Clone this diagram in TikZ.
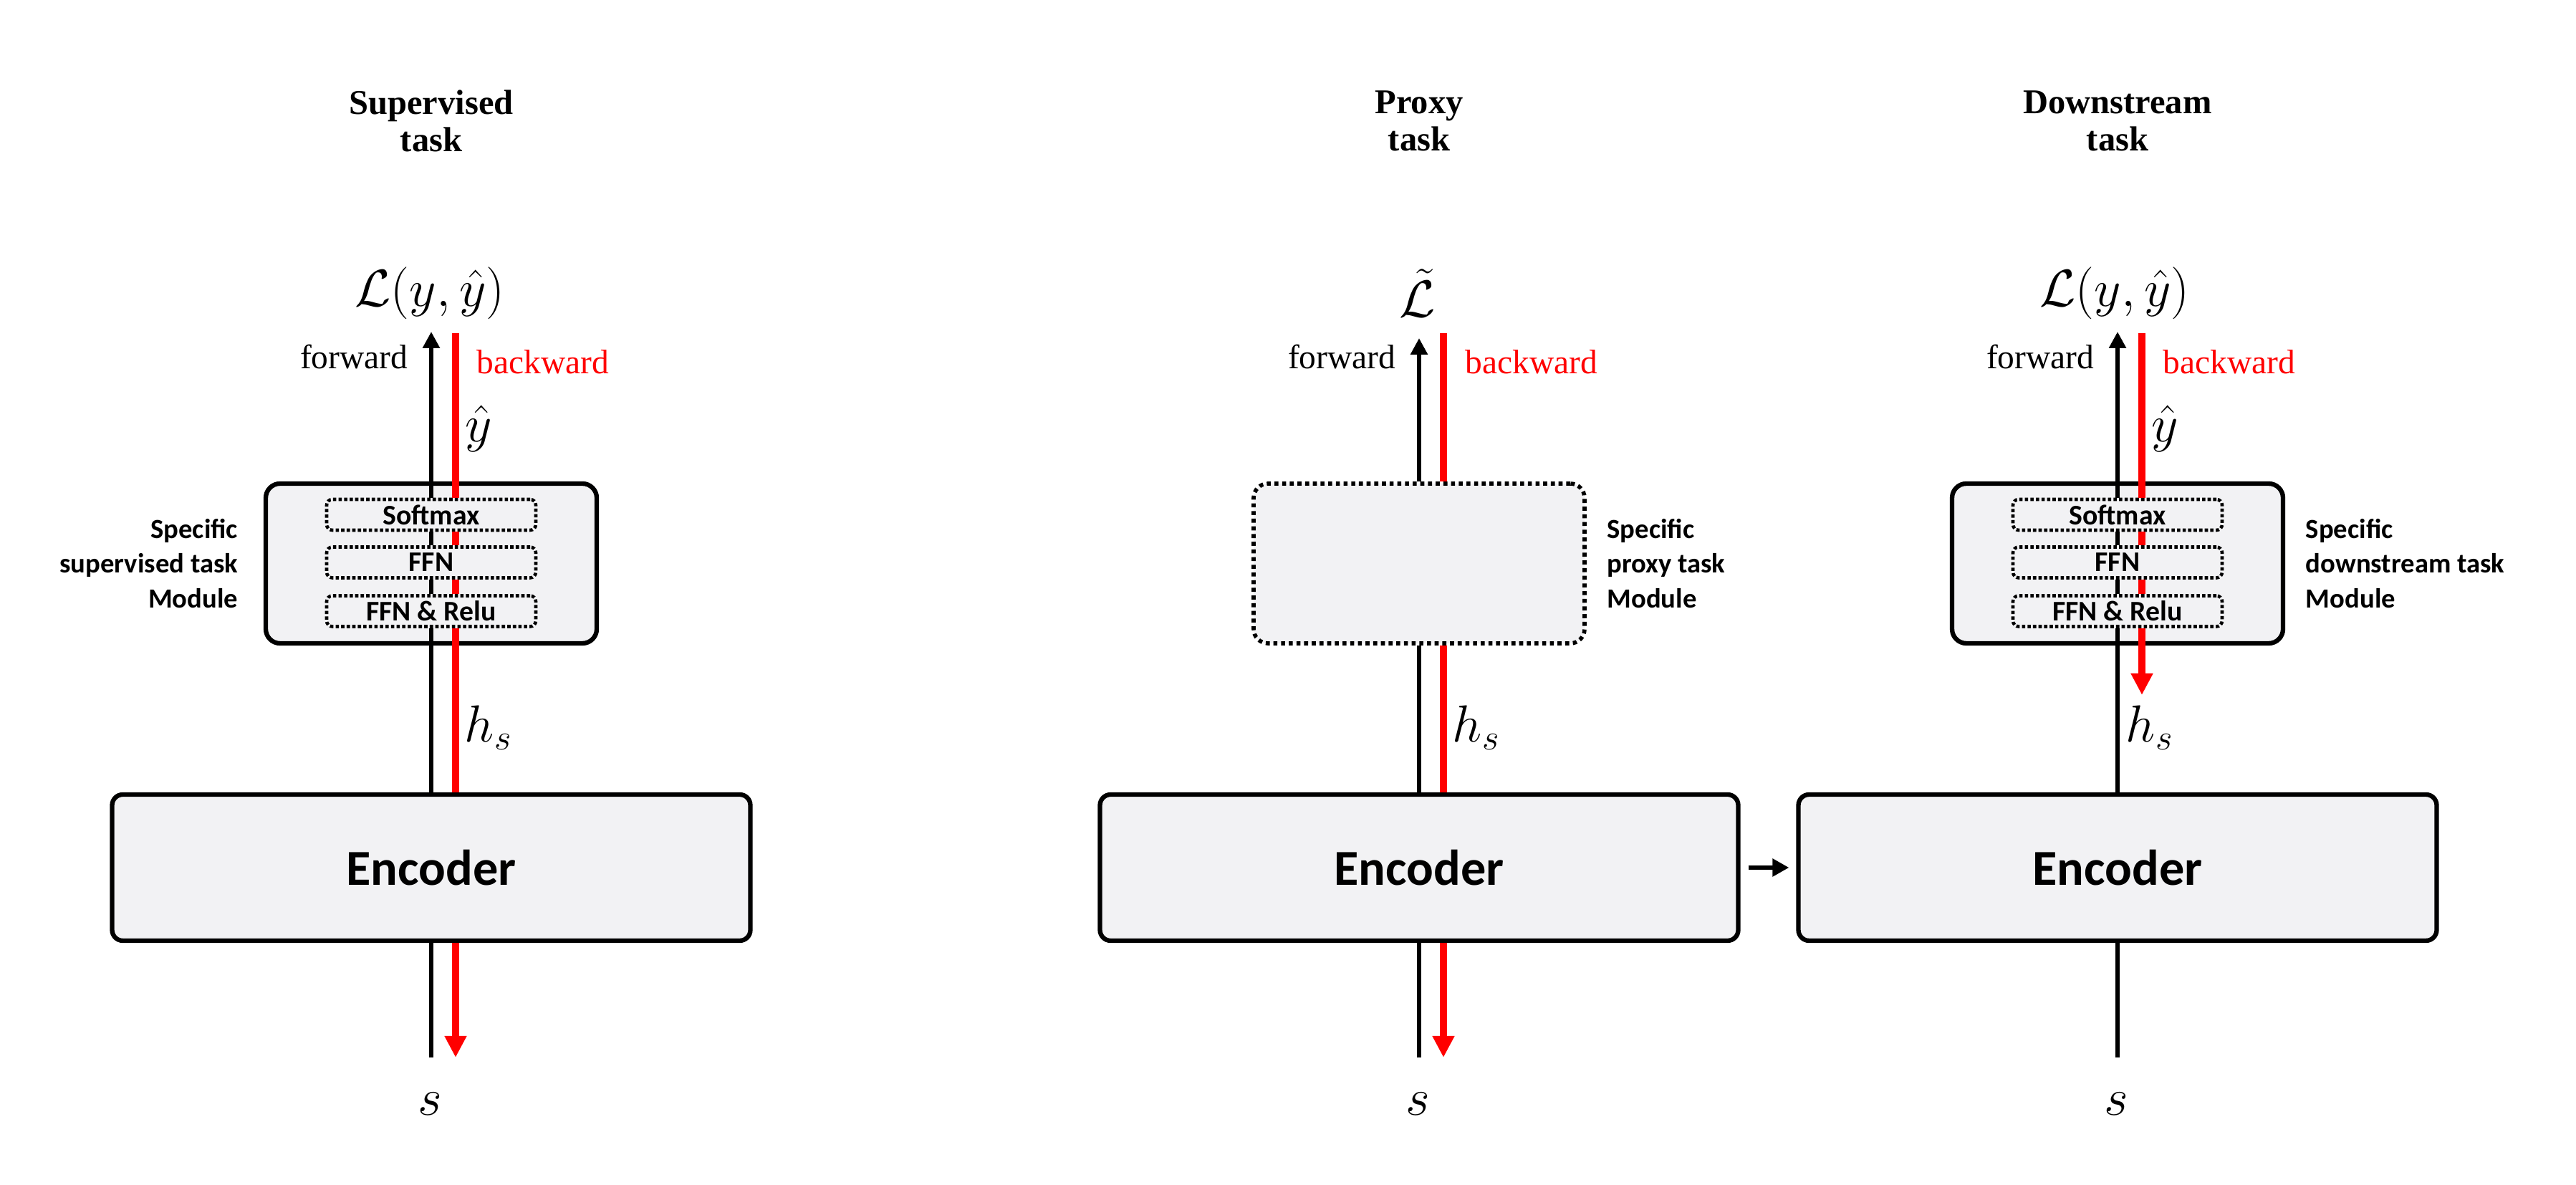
\documentclass[tikz,border=0pt]{standalone}
\usepackage{fontspec}
\setmainfont{Liberation Serif}
\newfontfamily\calibrifont{Carlito}
\usepackage{xcolor}
\usepackage{tikz}
\usetikzlibrary{arrows.meta}
\usetikzlibrary{positioning}

\definecolor{boxgray}{RGB}{242,242,244}
\definecolor{bwdred}{RGB}{255,0,0}

\begin{document}
\begin{tikzpicture}[
  tasktitle/.style={font=\bfseries\fontsize{13.8}{15}\selectfont, align=center, inner sep=0pt},
  dirlabel/.style={font=\fontsize{13.5}{16}\selectfont, inner sep=0pt},
  mathlbl/.style={font=\fontsize{20}{24}\selectfont, inner sep=0pt},
  modulebox/.style={draw, line width=1.8pt, rounded corners=0.2cm, fill=boxgray,
    minimum width=4.62cm, minimum height=2.23cm},
  proxybox/.style={modulebox, line width=1.6pt, dash pattern=on 1.6pt off 1.45pt},
  layerbox/.style={draw, line width=1.3pt, dash pattern=on 1.3pt off 0.9pt,
    rounded corners=0.08cm, fill=boxgray, minimum width=2.92cm, minimum height=0.43cm,
    inner sep=0pt, font=\calibrifont\bfseries\fontsize{11.3}{13}\selectfont},
  modlabel/.style={font=\calibrifont\bfseries\fontsize{11}{13.7}\selectfont, inner sep=0pt},
  encbox/.style={draw, line width=1.8pt, rounded corners=0.15cm, fill=boxgray,
    minimum width=8.91cm, minimum height=2.04cm,
    font=\calibrifont\bfseries\fontsize{20}{24}\selectfont},
  fwdline/.style={line width=1.7pt},
  fwdarrow/.style={fwdline, -{Triangle[length=0.23cm, width=0.23cm]}},
  bwdline/.style={draw=bwdred, line width=2.8pt},
  bwdarrow/.style={bwdline, -{Triangle[length=0.30cm, width=0.29cm]}},
  linkarrow/.style={line width=1.6pt, -{Triangle[length=0.23cm, width=0.24cm]},
    shorten <=0.11cm, shorten >=0.10cm},
]
\useasboundingbox (0,0) rectangle (35.96,16.54);

  % Titles
  \node[tasktitle] (t1) at (6.02, 14.85)  {Supervised\\task};
  \node[tasktitle] (t2) at (19.81, 14.85) {Proxy\\task};
  \node[tasktitle] (t3) at (29.56, 14.85) {Downstream\\task};

  % Losses
  \node[mathlbl] (loss1) at (6.00, 12.45)  {$\mathcal{L}(y,\hat{y})$};
  \node[mathlbl] (loss2) at (19.79, 12.45) {$\tilde{\mathcal{L}}$};
  \node[mathlbl] (loss3) at (29.52, 12.45) {$\mathcal{L}(y,\hat{y})$};

  % Task modules
  \node[modulebox] (mod1) at (6.02, 8.675)  {};
  \node[proxybox]  (mod2) at (19.81, 8.675) {};
  \node[modulebox] (mod3) at (29.56, 8.675) {};

  % Layers
  \node[layerbox] (soft1) at (6.02, 9.355) {Softmax};
  \node[layerbox] (ffn1)  at (6.02, 8.69)  {FFN};
  \node[layerbox] (relu1) at (6.02, 8.01)  {FFN \& Relu};
  \node[layerbox] (soft3) at (29.56, 9.355) {Softmax};
  \node[layerbox] (ffn3)  at (29.56, 8.69)  {FFN};
  \node[layerbox] (relu3) at (29.56, 8.01)  {FFN \& Relu};

  % Module labels
  \node[modlabel, align=right, left=0.35cm of mod1]  (lab1) {Specific\\supervised task\\Module};
  \node[modlabel, align=left, right=0.28cm of mod2]  (lab2) {Specific\\proxy task\\Module};
  \node[modlabel, align=left, right=0.28cm of mod3]  (lab3) {Specific\\downstream task\\Module};

  % Encoders
  \node[encbox] (enc1) at (6.02, 4.43)  {Encoder};
  \node[encbox] (enc2) at (19.81, 4.43) {Encoder};
  \node[encbox] (enc3) at (29.56, 4.43) {Encoder};

  % Variables
  \node[mathlbl] (yh1) at (6.68, 10.56)  {$\hat{y}$};
  \node[mathlbl] (yh3) at (30.22, 10.56) {$\hat{y}$};
  \node[mathlbl] (h1) at (6.82, 6.38)  {$h_s$};
  \node[mathlbl] (h2) at (20.61, 6.38) {$h_s$};
  \node[mathlbl] (h3) at (30.01, 6.38) {$h_s$};
  \node[mathlbl, font=\fontsize{22}{26}\selectfont] (s1) at (6.00, 1.13)  {$s$};
  \node[mathlbl, font=\fontsize{22}{26}\selectfont] (s2) at (19.79, 1.13) {$s$};
  \node[mathlbl, font=\fontsize{22}{26}\selectfont] (s3) at (29.54, 1.13) {$s$};

  % Direction labels
  \node[dirlabel, anchor=base east] (fw1) at (5.70, 11.39)  {forward};
  \node[dirlabel, anchor=base west, text=bwdred] (bw1) at (6.65, 11.32)  {backward};
  \node[dirlabel, anchor=base east] (fw2) at (19.49, 11.39) {forward};
  \node[dirlabel, anchor=base west, text=bwdred] (bw2) at (20.45, 11.32) {backward};
  \node[dirlabel, anchor=base east] (fw3) at (29.24, 11.39) {forward};
  \node[dirlabel, anchor=base west, text=bwdred] (bw3) at (30.19, 11.32) {backward};

  % Free ends
  \coordinate (ft1) at (6.02, 11.91);
  \coordinate (bt1) at (6.36, 11.89);
  \coordinate (fb1) at (6.02, 1.78);
  \coordinate (bb1) at (6.36, 1.78);
  \coordinate (ft2) at (19.81, 11.82);
  \coordinate (bt2) at (20.15, 11.89);
  \coordinate (fb2) at (19.81, 1.78);
  \coordinate (bb2) at (20.15, 1.78);
  \coordinate (ft3) at (29.56, 11.91);
  \coordinate (bt3) at (29.90, 11.89);
  \coordinate (fb3) at (29.56, 1.78);
  \coordinate (bb3) at (29.90, 6.84);

  % Forward edges
  \draw[fwdline] (fb1) -- (enc1.south);
  \draw[fwdline] (enc1.north) -- (relu1.south);
  \draw[fwdline] (relu1.north) -- (ffn1.south);
  \draw[fwdline] (ffn1.north) -- (soft1.south);
  \draw[fwdarrow] (soft1.north) -- (ft1);

  \draw[fwdline] (fb2) -- (enc2.south);
  \draw[fwdline] (enc2.north) -- (mod2.south);
  \draw[fwdarrow] (mod2.north) -- (ft2);

  \draw[fwdline] (fb3) -- (enc3.south);
  \draw[fwdline] (enc3.north) -- (relu3.south);
  \draw[fwdline] (relu3.north) -- (ffn3.south);
  \draw[fwdline] (ffn3.north) -- (soft3.south);
  \draw[fwdarrow] (soft3.north) -- (ft3);

  % Backward edges
  \draw[bwdline] (bt1) -- ([xshift=0.34cm]soft1.north);
  \draw[bwdline] ([xshift=0.34cm]soft1.south) -- ([xshift=0.34cm]ffn1.north);
  \draw[bwdline] ([xshift=0.34cm]ffn1.south) -- ([xshift=0.34cm]relu1.north);
  \draw[bwdline] ([xshift=0.34cm]relu1.south) -- ([xshift=0.34cm]enc1.north);
  \draw[bwdarrow] ([xshift=0.34cm]enc1.south) -- (bb1);

  \draw[bwdline] (bt2) -- ([xshift=0.34cm]mod2.north);
  \draw[bwdline] ([xshift=0.34cm]mod2.south) -- ([xshift=0.34cm]enc2.north);
  \draw[bwdarrow] ([xshift=0.34cm]enc2.south) -- (bb2);

  \draw[bwdline] (bt3) -- ([xshift=0.34cm]soft3.north);
  \draw[bwdline] ([xshift=0.34cm]soft3.south) -- ([xshift=0.34cm]ffn3.north);
  \draw[bwdline] ([xshift=0.34cm]ffn3.south) -- ([xshift=0.34cm]relu3.north);
  \draw[bwdarrow] ([xshift=0.34cm]relu3.south) -- (bb3);

  % Encoder transfer
  \draw[linkarrow] (enc2.east) -- (enc3.west);

\end{tikzpicture}
\end{document}
